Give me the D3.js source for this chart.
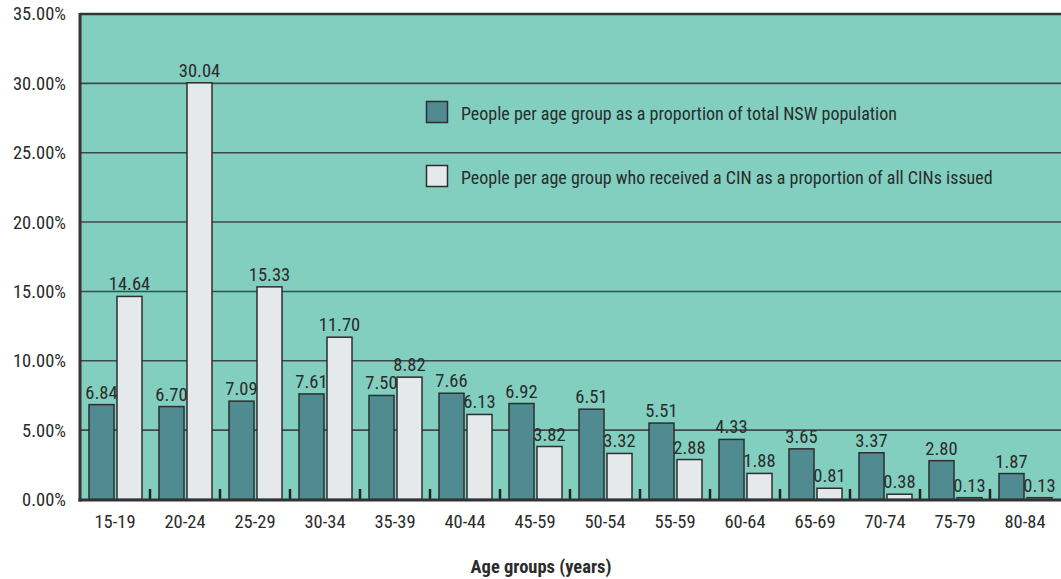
<!DOCTYPE html>
<html><head><meta charset="utf-8">
<script src="https://cdn.jsdelivr.net/npm/d3@7"></script>
<style>
body{margin:0;background:#fff;}
text{font-family:"Liberation Sans Narrow","Arial Narrow","Roboto Condensed",sans-serif;fill:#2b2b2b;}
</style></head>
<body><svg id="c" width="1061" height="579"></svg>
<script>
const categories=["15-19","20-24","25-29","30-34","35-39","40-44","45-59","50-54","55-59","60-64","65-69","70-74","75-79","80-84"];
const populationShare=[6.84,6.70,7.09,7.61,7.50,7.66,6.92,6.51,5.51,4.33,3.65,3.37,2.80,1.87];
const cinShare=[14.64,30.04,15.33,11.70,8.82,6.13,3.82,3.32,2.88,1.88,0.81,0.38,0.13,0.13];
const yTicks=[0,5,10,15,20,25,30,35];
const seriesNames=["People per age group as a proportion of total NSW population","People per age group who received a CIN as a proportion of all CINs issued"];

const svg=d3.select("#c");
const L=80,R=1060,T=14,B=499.5;
const x=d3.scaleBand().domain(categories).range([L,R]).paddingInner(0).paddingOuter(0);
const y=d3.scaleLinear().domain([0,35]).range([B,T]);
const bw=25,gap=3,off=9;
const dark="#4f8b90",light="#e5e9ec",bg="#82cfc0",stroke="#2e2e2e";
const fs=18.5;

svg.append("rect").attr("x",L).attr("y",T).attr("width",1061-L).attr("height",B-T).attr("fill",bg);
// grid
svg.selectAll(".g").data(yTicks.filter(d=>d>0&&d<35)).enter().append("line")
 .attr("x1",L).attr("x2",1061).attr("y1",d=>y(d)).attr("y2",d=>y(d))
 .attr("stroke","#3d4a48").attr("stroke-width",1.6);
// top border
svg.append("line").attr("x1",L).attr("x2",1061).attr("y1",T).attr("y2",T).attr("stroke","#333").attr("stroke-width",2.5);
// y labels
svg.selectAll(".yl").data(yTicks).enter().append("text")
 .attr("x",66).attr("y",d=>y(d)).attr("dy","0.35em").attr("text-anchor","end")
 .attr("font-size",fs).text(d=>d.toFixed(2)+"%");

// bars
const g=svg.append("g");
categories.forEach((c,i)=>{
  const x0=x(c)+off;
  g.append("rect").attr("x",x0).attr("y",y(populationShare[i])).attr("width",bw).attr("height",B-y(populationShare[i]))
   .attr("fill",dark).attr("stroke",stroke).attr("stroke-width",1.5);
  g.append("rect").attr("x",x0+bw+gap).attr("y",y(cinShare[i])).attr("width",bw).attr("height",B-y(cinShare[i]))
   .attr("fill",light).attr("stroke",stroke).attr("stroke-width",1.5);
  g.append("text").attr("x",x0+bw/2).attr("y",y(populationShare[i])-6).attr("text-anchor","middle").attr("font-size",fs).text(populationShare[i].toFixed(2));
  g.append("text").attr("x",x0+bw+gap+bw/2).attr("y",y(cinShare[i])-6).attr("text-anchor","middle").attr("font-size",fs).text(cinShare[i].toFixed(2));
});
// band ticks
svg.selectAll(".bt").data(categories.slice(1)).enter().append("line")
 .attr("x1",d=>x(d)).attr("x2",d=>x(d)).attr("y1",489).attr("y2",B)
 .attr("stroke","#222").attr("stroke-width",2.5);
// axes lines
svg.append("line").attr("x1",L-1.5).attr("x2",1061).attr("y1",B+0.5).attr("y2",B+0.5).attr("stroke","#333").attr("stroke-width",3);
svg.append("line").attr("x1",L).attr("x2",L).attr("y1",T-1).attr("y2",B+2).attr("stroke","#333").attr("stroke-width",3);
// x labels
svg.selectAll(".xl").data(categories).enter().append("text")
 .attr("x",d=>x(d)+x.bandwidth()/2).attr("y",522).attr("dy","0.35em").attr("text-anchor","middle")
 .attr("font-size",fs).text(d=>d);
svg.append("text").attr("x",541).attr("y",567).attr("dy","0.35em").attr("text-anchor","middle")
 .attr("font-size",fs).attr("font-weight","bold").text("Age groups (years)");
// legend
const lg=[{c:dark,y:101},{c:light,y:165}];
lg.forEach((d,i)=>{
  svg.append("rect").attr("x",426.5).attr("y",d.y+0.5).attr("width",21).attr("height",21).attr("fill",d.c).attr("stroke",stroke).attr("stroke-width",1.5);
  svg.append("text").attr("x",461).attr("y",d.y+13).attr("dy","0.35em").attr("font-size",18).text(seriesNames[i]);
});
</script></body></html>
